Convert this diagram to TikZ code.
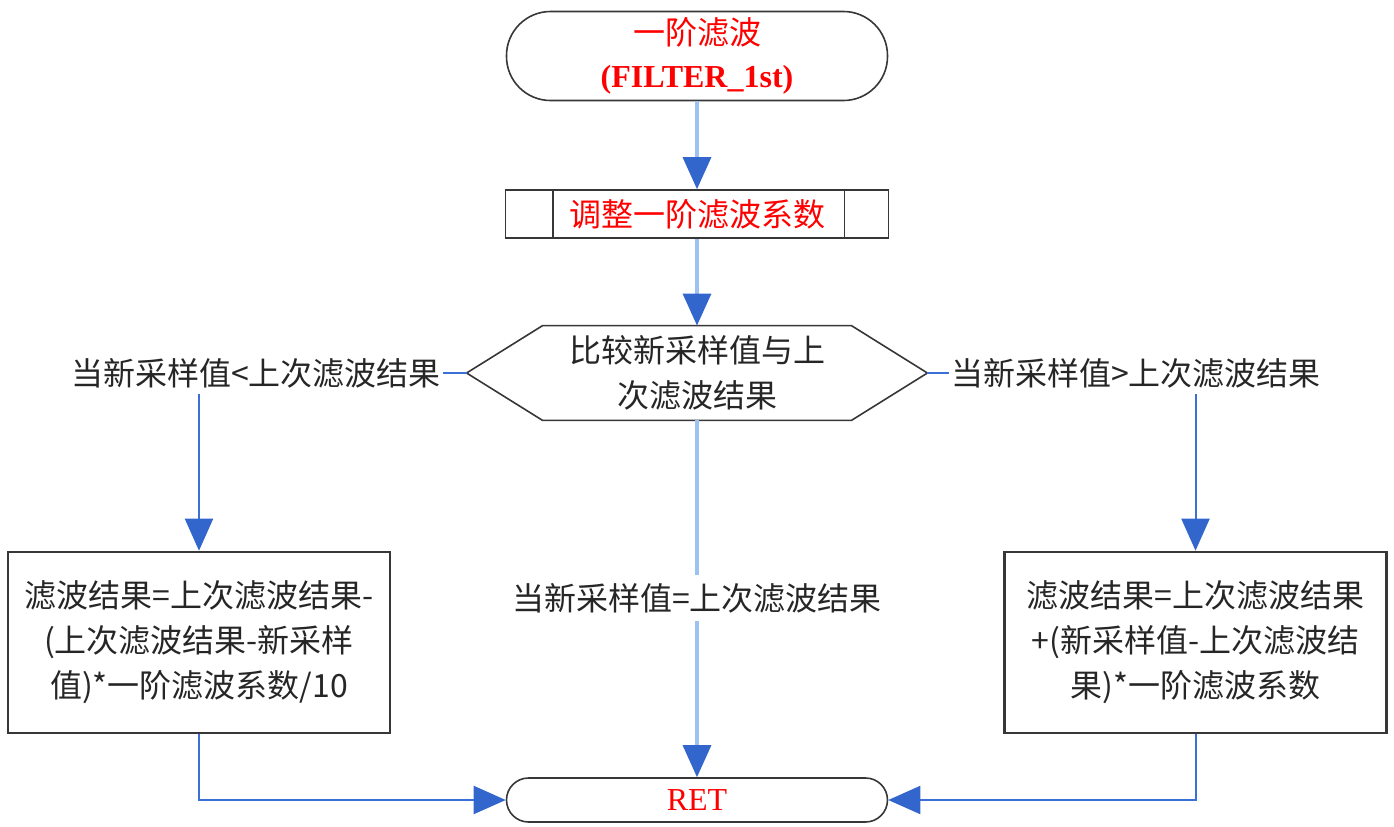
\documentclass[tikz,border=0pt]{standalone}
\usepackage{fontspec}
\setmainfont{Liberation Serif}
\newfontfamily\cjk{Noto Sans CJK SC}
\usepackage{xcolor}
\usetikzlibrary{arrows.meta,positioning}
\definecolor{flowred}{RGB}{255,0,0}
\definecolor{lineblue}{RGB}{155,194,240}
\definecolor{sideblue}{RGB}{58,112,216}
\definecolor{headblue}{RGB}{51,102,204}
\definecolor{edgegray}{RGB}{55,55,55}

\begin{document}
\begin{tikzpicture}[x=0.5pt,y=-0.5pt,->,>={Triangle[length=16pt,width=14pt,color=headblue]},
	font=\cjk\fontsize{16}{22.5}\selectfont]
		\tikzstyle{every node}=[text=black!85]
		\tikzstyle{term}=[draw=edgegray,thick,rectangle,minimum width=190.5pt,inner sep=1pt,text=flowred,align=center]
		\tikzstyle{prebox}=[draw=edgegray,thick,rectangle,minimum width=191.5pt,minimum height=24pt,inner sep=0pt,text=flowred]
		\tikzstyle{calcbox}=[draw=edgegray,line width=1.3pt,rectangle,minimum width=191pt,minimum height=90.5pt,align=center]
		\tikzstyle{lbl}=[inner sep=1pt]
		\tikzstyle{side}=[draw=sideblue,line width=1pt]
		\useasboundingbox (0,0) rectangle (1394,826);
		% main column
		\node[term,minimum height=44.5pt,rounded corners=22pt] (start) at (697,56)
			{一阶滤波\\[-1pt]{\rmfamily\bfseries (FILTER\_1st)}};
		\node[prebox]   (adj) at (697,214)  {调整一阶滤波系数};
		\draw[-,edgegray,thick] ([xshift=24pt]adj.north west) -- ([xshift=24pt]adj.south west)
			([xshift=-22.5pt]adj.north east) -- ([xshift=-22.5pt]adj.south east);
		\node[minimum width=230pt,minimum height=47pt,inner sep=0pt,align=center] (cmp) at (697,373)
			{比较新采样值与上\\次滤波结果};
		\draw[-,edgegray,thick] (cmp.west) -- ([xshift=38pt]cmp.north west) -- ([xshift=-38pt]cmp.north east)
			-- (cmp.east) -- ([xshift=-38pt]cmp.south east) -- ([xshift=38pt]cmp.south west) -- cycle;
		\node[term,minimum height=22pt,rounded corners=11pt] (ret) at (697,800) {\rmfamily RET};
		% branches
		\node[lbl]      (lt) at (256,373)   {当新采样值<上次滤波结果};
		\node[lbl]      (rt) at (1136,373)  {当新采样值>上次滤波结果};
		\node[calcbox]  (lbox) at (199,642.5)
			{滤波结果=上次滤波结果-\\(上次滤波结果-新采样\\值)*一阶滤波系数/10};
		\node[calcbox]  (rbox) at (1195.5,642.5)
			{滤波结果=上次滤波结果\\+(新采样值-上次滤波结\\果)*一阶滤波系数};
		\path[draw=lineblue,line width=1.6pt]
		(start) edge (adj)
		(adj) edge (cmp)
		(cmp) edge (ret);
		\node[fill=white,inner sep=4pt] (eq) at (697,598) {当新采样值=上次滤波结果};
		\draw[side,-] (cmp.west) -- (lt.east);
		\draw[side,-] (cmp.east) -- (rt.west);
		\draw[side] ([yshift=-2pt]lbox.north |- lt.south) -- (lbox.north);
		\draw[side] ([yshift=-2pt]rbox.north |- rt.south) -- (rbox.north);
		\draw[side] (lbox.south) |- (ret.west);
		\draw[side] (rbox.south) |- (ret.east);
	\end{tikzpicture}
\end{document}
